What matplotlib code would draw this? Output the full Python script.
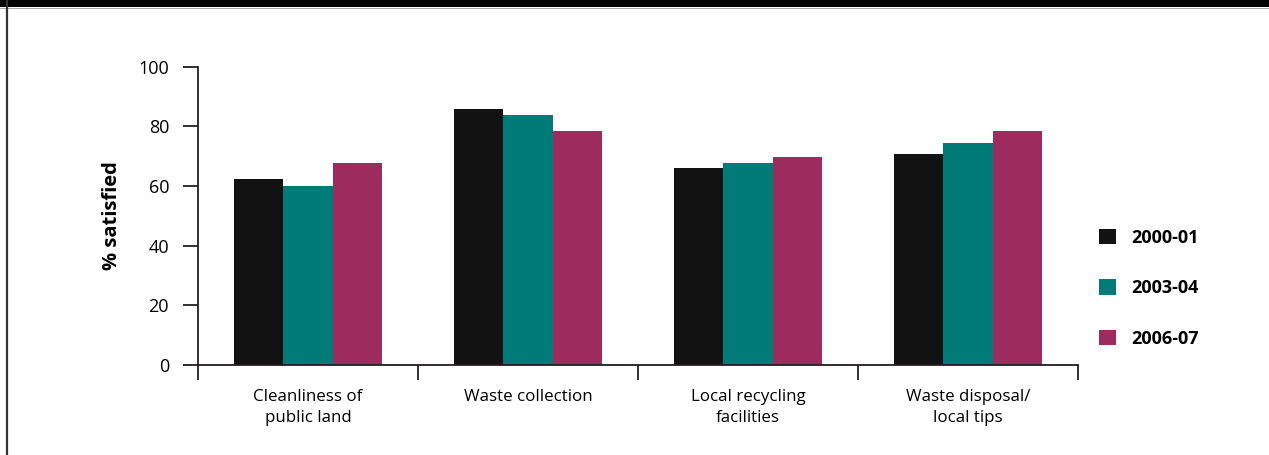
import matplotlib

matplotlib.use("Agg")
import matplotlib.pyplot as plt
import numpy as np
from matplotlib.patches import Rectangle
from matplotlib.lines import Line2D

plt.rcParams["font.family"] = ["Open Sans", "DejaVu Sans"]

categories = [
    "Cleanliness of\npublic land",
    "Waste collection",
    "Local recycling\nfacilities",
    "Waste disposal/\nlocal tips",
]
years = ["2000-01", "2003-04", "2006-07"]
satisfied = {
    "2000-01": [62.4, 85.8, 66.0, 70.7],
    "2003-04": [60.0, 83.8, 67.7, 74.4],
    "2006-07": [67.7, 78.4, 69.7, 78.4],
}
colors = ["#121212", "#007b77", "#9d2c5e"]
yticks = [0, 20, 40, 60, 80, 100]

INK = "#231f20"

fig = plt.figure(figsize=(12.69, 4.55), dpi=100)

# page furniture: black header band and left rule
fig.add_artist(Rectangle((0, 1 - 7 / 455), 1, 7 / 455, transform=fig.transFigure,
                         facecolor="black", edgecolor="none"))
fig.add_artist(Line2D([0, 1], [1 - 7.5 / 455] * 2, transform=fig.transFigure,
                      color="#9a9a9a", lw=0.6))
fig.add_artist(Line2D([7 / 1269] * 2, [0, 1], transform=fig.transFigure,
                      color="#333333", lw=1.6))

ax = fig.add_axes([198 / 1269, 90 / 455, 880 / 1269, 298.3 / 455])

x = np.arange(len(categories)) + 0.5
width = 0.223
for i, (year, color) in enumerate(zip(years, colors)):
    ax.bar(x + (i - 1) * width, satisfied[year], width, color=color, label=year)

ax.set_xlim(0, len(categories))
ax.set_ylim(0, 100)
ax.set_yticks(yticks)
ax.tick_params(axis="y", direction="out", length=10.8, width=1.3, color=INK,
               pad=10, labelsize=13)
ax.set_xticks(np.arange(len(categories) + 1))
ax.set_xticklabels([])
ax.tick_params(axis="x", direction="out", length=10.8, width=1.3, color=INK)

for side in ("top", "right"):
    ax.spines[side].set_visible(False)
for side in ("left", "bottom"):
    ax.spines[side].set_color(INK)
    ax.spines[side].set_linewidth(1.3)

for xc, label in zip(x, categories):
    ax.text(xc, -0.08, label, transform=ax.get_xaxis_transform(),
            ha="center", va="top", fontsize=12.2, linespacing=1.4)

ax.set_ylabel("% satisfied", fontsize=14.5, fontweight="bold", labelpad=12)

leg = ax.legend(loc="center left", bbox_to_anchor=(1.005, 0.258), frameon=False,
                prop={"weight": "bold", "size": 13}, handlelength=0.95,
                handleheight=0.95, labelspacing=1.8, handletextpad=0.85)

fig.savefig("out.png", dpi=100)
